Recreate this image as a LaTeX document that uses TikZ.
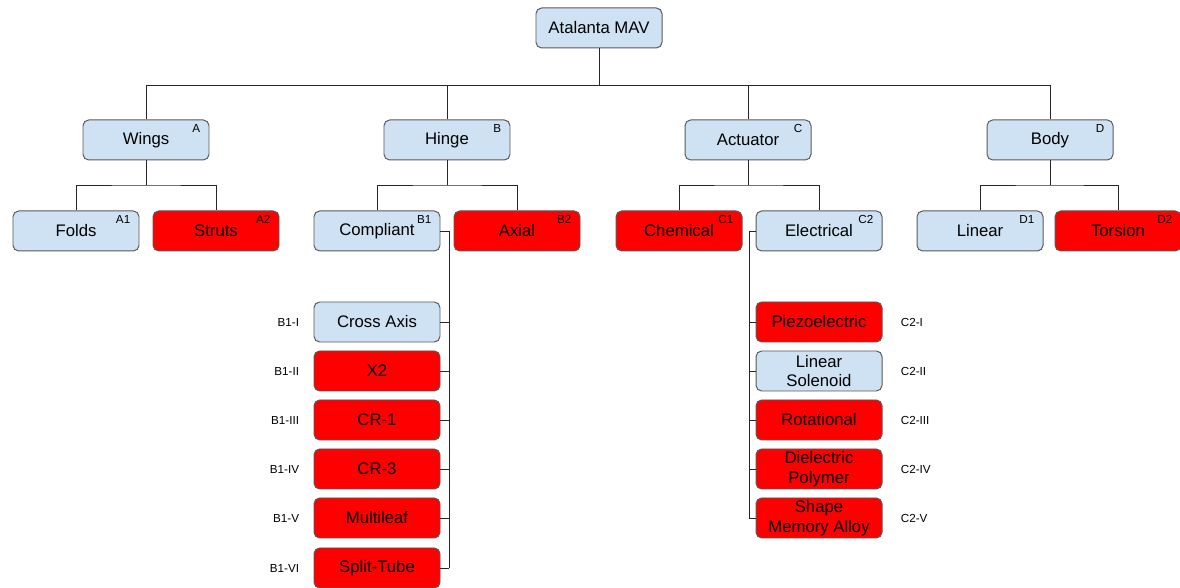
\documentclass[tikz,border=0pt]{standalone}
\usepackage{fontspec}
\setmainfont{Liberation Sans}
\usepackage{tikz}

\definecolor{paleblue}{HTML}{CFE2F3}
\definecolor{boxline}{HTML}{595959}

\begin{document}
\begin{tikzpicture}[line width = 0.6pt,
				part/.style = {rectangle, rounded corners = 4pt, draw = 
				boxline, line width = 0.7pt, minimum width = 3.15cm, 
				minimum height = 1cm, inner sep = 1pt, align = center,
				font = \fontsize{11.9}{14}\selectfont},
				pale/.style = {part, fill = paleblue},
				hot/.style = {part, fill = red},
				idx/.style = {font = \fontsize{8.3}{10}\selectfont, 
				inner sep = 0pt, anchor = north east, xshift = -0.22cm, 
				yshift = -0.12cm},
				side/.style = {font = \fontsize{8.3}{10}\selectfont, 
				inner sep = 0pt},
				link/.style = {draw = black!85},
				]

		\useasboundingbox (0,0) rectangle (29.5,14.7);

		\node [pale] (mav) at (14.975,14) {Atalanta MAV};

		\node [pale, label = {[idx]north east:A}] (wings) at (3.65,11.2) {Wings};
		\node [pale, label = {[idx]north east:B}] (hinge) at (11.175,11.2) {Hinge};
		\node [pale, label = {[idx]north east:C}] (actuator) at (18.7,11.2) {Actuator};
		\node [pale, label = {[idx]north east:D}] (body) at (26.25,11.2) {Body};

		\node [pale, label = {[idx]north east:A1}] (folds) at (1.9,8.925) {Folds};
		\node [hot, label = {[idx]north east:A2}] (struts) at (5.4,8.925) {Struts};
		\node [pale, label = {[idx]north east:B1}] (compliant) at (9.425,8.925) {Compliant};
		\node [hot, label = {[idx]north east:B2}] (axial) at (12.925,8.925) {Axial};
		\node [hot, label = {[idx]north east:C1}] (chemical) at (16.975,8.925) {Chemical};
		\node [pale, label = {[idx]north east:C2}] (electrical) at (20.475,8.925) {Electrical};
		\node [pale, label = {[idx]north east:D1}] (linear) at (24.5,8.925) {Linear};
		\node [hot, label = {[idx]north east:D2}] (torsion) at (27.95,8.925) {Torsion};

		% compliant hinges
		\node [pale, label = {[side, xshift = -0.35cm]left:B1-I}] (crossaxis) at (9.425,6.65) {Cross Axis};
		\node [hot, label = {[side, xshift = -0.35cm]left:B1-II}] (xtwo) at (9.425,5.425) {X2};
		\node [hot, label = {[side, xshift = -0.35cm]left:B1-III}] (crone) at (9.425,4.2) {CR-1};
		\node [hot, label = {[side, xshift = -0.35cm]left:B1-IV}] (crthree) at (9.425,2.975) {CR-3};
		\node [hot, label = {[side, xshift = -0.35cm]left:B1-V}] (multileaf) at (9.425,1.75) {Multileaf};
		\node [hot, label = {[side, xshift = -0.35cm]left:B1-VI}] (splittube) at (9.425,0.5) {Split-Tube};

		% electrical actuators
		\node [hot, label = {[side, xshift = 0.45cm]right:C2-I}] (piezo) at (20.475,6.65) {Piezoelectric};
		\node [pale, label = {[side, xshift = 0.45cm]right:C2-II}] (solenoid) at (20.475,5.425) {Linear\\Solenoid};
		\node [hot, label = {[side, xshift = 0.45cm]right:C2-III}] (rotational) at (20.475,4.2) {Rotational};
		\node [hot, label = {[side, xshift = 0.45cm]right:C2-IV}] (dielectric) at (20.475,2.975) {Dielectric\\Polymer};
		\node [hot, label = {[side, xshift = 0.45cm]right:C2-V}] (sma) at (20.475,1.75) {Shape\\Memory Alloy};

		\coordinate (busone) at (0,12.575);
		\coordinate (bustwo) at (0,10.075);
		\coordinate (btrunk) at (11.225,0);
		\coordinate (ctrunk) at (18.725,0);

		\draw [link] (mav.south) -- (mav.south |- busone) coordinate (mavbus);
		\foreach \n in {wings, hinge, actuator, body}
			\draw [link] (\n.north) |- (mavbus);

		\foreach \p/\a/\b in {wings/folds/struts, hinge/compliant/axial,
			actuator/chemical/electrical, body/linear/torsion}
		{
			\draw [link] (\p.south) -- (\p.south |- bustwo) coordinate (\p bus);
			\draw [link] (\a.north) |- (\p bus) -| (\b.north);
		}

		\draw [link] (compliant.east) -| (splittube.east -| btrunk);
		\foreach \n in {crossaxis, xtwo, crone, crthree, multileaf, splittube}
			\draw [link] (\n.east) -- (\n.east -| btrunk);

		\draw [link] (electrical.west) -| (sma.west -| ctrunk);
		\foreach \n in {piezo, solenoid, rotational, dielectric, sma}
			\draw [link] (\n.west) -- (\n.west -| ctrunk);
\end{tikzpicture}
\end{document}
